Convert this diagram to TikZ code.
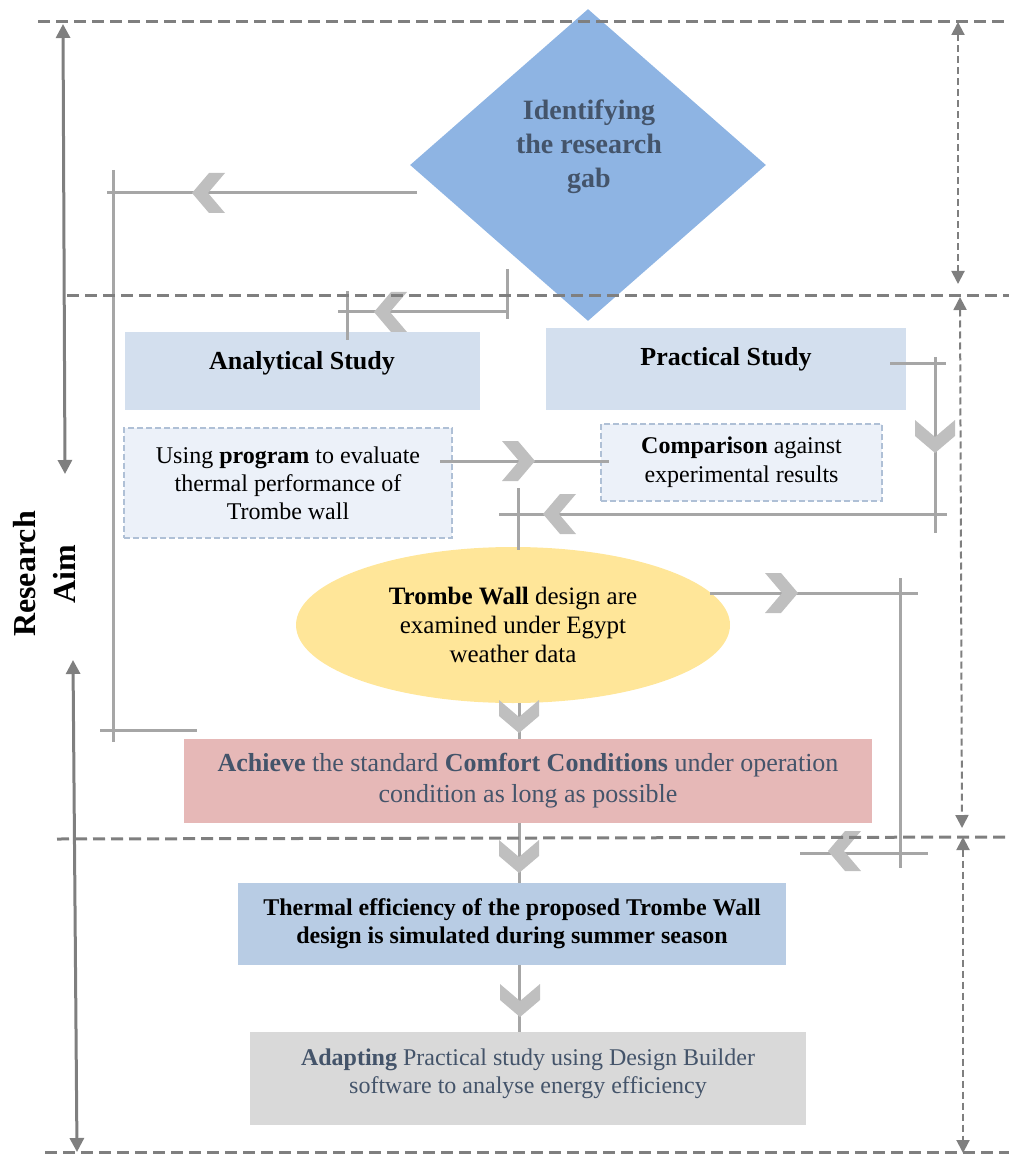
\documentclass[tikz,border=0pt]{standalone}
\usepackage{fontspec}
\setmainfont{Liberation Serif}
\usetikzlibrary{shapes.geometric,arrows.meta}

\definecolor{dgray}{HTML}{7F7F7F}
\definecolor{lgray}{HTML}{A6A6A6}
\definecolor{chevgray}{HTML}{BFBFBF}
\definecolor{slate}{HTML}{44546A}
\definecolor{gapblue}{HTML}{8EB4E3}
\definecolor{headblue}{HTML}{D3DFEE}
\definecolor{paleblue}{HTML}{ECF1F9}
\definecolor{paleedge}{HTML}{AFC0D6}
\definecolor{wallyellow}{HTML}{FFE699}
\definecolor{comfortred}{HTML}{E6B8B7}
\definecolor{thermblue}{HTML}{B8CCE4}
\definecolor{adaptgray}{HTML}{D9D9D9}

\tikzset{
  sepline/.style={dgray, line width=1.5pt, dash pattern=on 6pt off 3pt},
  spanarr/.style={dgray, line width=1pt, dash pattern=on 3.5pt off 2pt,
    {Triangle[length=6.5pt,width=6.5pt]}-{Triangle[length=6.5pt,width=6.5pt]}},
  aimarr/.style={dgray, line width=1.5pt,
    {Triangle[length=7pt,width=7pt]}-{Triangle[length=7pt,width=7pt]}},
  conn/.style={lgray, line width=1.5pt},
  chev/.pic={\fill[chevgray] (-33,20) -- (-17,20) -- (0,0) -- (-17,-20) -- (-33,-20) -- (-16,0) -- cycle;},
  box/.style={rectangle, inner sep=0pt, align=center},
  dbox/.style={box, fill=paleblue, draw=paleedge, line width=1pt, dash pattern=on 3pt off 1.5pt},
  headtxt/.style={font=\bfseries\fontsize{13}{15}\selectfont},
}

\begin{document}
\begin{tikzpicture}[x=0.5pt,y=-0.5pt]
    \useasboundingbox (0,0) rectangle (1009,1154);

    % diamond
    \node[diamond, fill=gapblue, inner sep=0pt, minimum width=178pt, minimum height=156pt] (gap) at (588,165) {};
    \node[font=\bfseries\fontsize{14}{17}\selectfont, text=slate, align=center] (gapt) at (589,147) {Identifying\\the research\\gab};

    % boxes
    \node[box, fill=headblue, minimum width=177.5pt, minimum height=39pt] (ana) at (302.5,371) {};
    \node[headtxt] (anat) at (302,363) {Analytical Study};
    \node[box, fill=headblue, minimum width=180pt, minimum height=41pt] (pra) at (726,369) {};
    \node[headtxt] (prat) at (726,359) {Practical Study};

    \node[dbox, minimum width=164pt, minimum height=55pt, font=\fontsize{12}{14}\selectfont] (prog) at (288,483)
        {Using \textbf{program} to evaluate\\thermal performance of\\Trombe wall};
    \node[dbox, minimum width=140.5pt, minimum height=38.5pt, font=\fontsize{12}{14.5}\selectfont] (comp) at (741.5,462.5)
        {\textbf{Comparison} against\\experimental results};

    \node[ellipse, fill=wallyellow, inner sep=0pt, minimum width=217pt, minimum height=78pt, align=center,
        font=\fontsize{12.5}{14.3}\selectfont] (ell) at (513,625)
        {\textbf{Trombe Wall} design are\\examined under Egypt\\weather data};

    \node[box, fill=comfortred, minimum width=344pt, minimum height=42pt, text=slate,
        font=\fontsize{13}{15.5}\selectfont] (ach) at (528,781)
        {\textbf{Achieve} the standard \textbf{Comfort Conditions} under operation\\condition as long as possible};
    \node[box, fill=thermblue, minimum width=274pt, minimum height=41pt,
        font=\bfseries\fontsize{12}{14}\selectfont] (the) at (512,924)
        {Thermal efficiency of the proposed Trombe Wall\\design is simulated during summer season};
    \node[box, fill=adaptgray, minimum width=278pt, minimum height=46.5pt] (ada) at (528,1078.5) {};
    \node[text=slate, align=center, font=\fontsize{12}{14}\selectfont] (adat) at (528,1074)
        {\textbf{Adapting} Practical study using Design Builder\\software to analyse energy efficiency};

    \node[rotate=90, align=center, font=\bfseries\fontsize{16}{20}\selectfont] (aim) at (44,574) {Research\\Aim};

    % connectors
    \draw[conn] (417,193) -- (107,193);
    \draw[conn] (113,170) -- (113,742);
    \draw[conn] (100,730) -- (197,730);
    \draw[conn] (507,269) -- (507,319);
    \draw[conn] (508,312) -- (338,312);
    \draw[conn] (347,291) -- (347,340);
    \draw[conn] (440,461) -- (609,461);
    \draw[conn] (890,364) -- (946,364);
    \draw[conn] (935,357) -- (935,533);
    \draw[conn] (947,514) -- (499,514);
    \draw[conn] (518,488) -- (518,550);
    \draw[conn] (710,593) -- (918,593);
    \draw[conn] (900,578) -- (900,868);
    \draw[conn] (800,853) -- (928,853);
    \coordinate (ax) at (519,0);
    \draw[conn] (ax |- ell.south) -- (ax |- ach.north);
    \draw[conn] (ax |- ach.south) -- (ax |- the.north);
    \draw[conn] (ax |- the.south) -- (ax |- ada.north);

    \pic[rotate=180] at (192,193) {chev};
    \pic[rotate=180] at (374,312) {chev};
    \pic at (535,461) {chev};
    \pic[rotate=-90] at (935,453) {chev};
    \pic[rotate=180] at (543,514) {chev};
    \pic at (798,593) {chev};
    \pic[rotate=180] at (828,851) {chev};
    \pic[rotate=-90] at (519,733) {chev};
    \pic[rotate=-90] at (519,873) {chev};
    \pic[rotate=-90] at (520,1017) {chev};

    % separators and spans
    \draw[sepline] (38,22) -- (1009,22);
    \draw[sepline] (67,296) -- (1009,296);
    \draw[sepline] (57,839) -- (1009,837);
    \draw[sepline] (45,1152) -- (1009,1152);
    \draw[spanarr] (958,22) -- (958,284);
    \draw[spanarr] (960,297) -- (962,828);
    \draw[spanarr] (963,837) -- (963,1153);
    \draw[aimarr] (63,24) -- (65,474);
    \draw[aimarr] (73,660) -- (77,1152);
\end{tikzpicture}
\end{document}
